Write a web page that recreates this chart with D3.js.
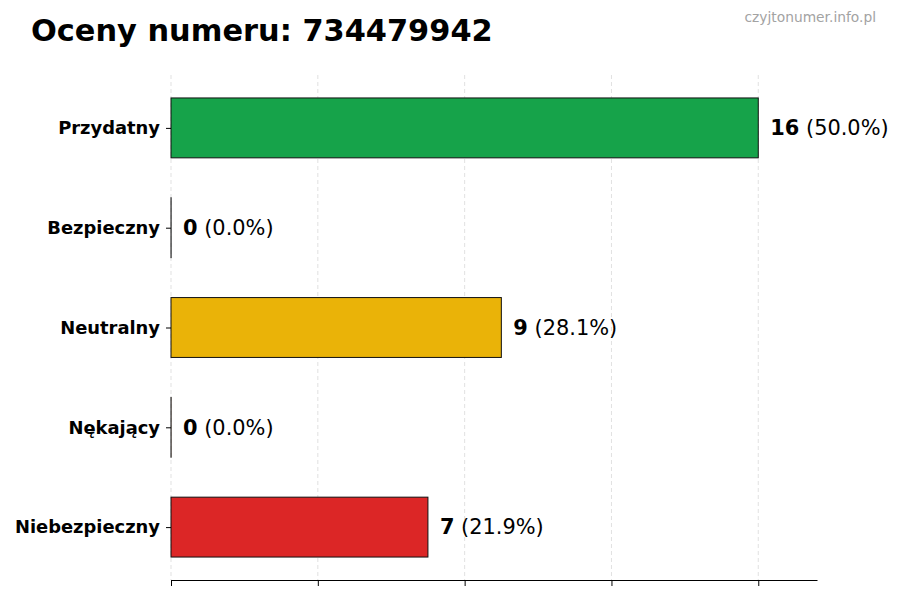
<!DOCTYPE html>
<html>
<head>
<meta charset="utf-8">
<script src="https://cdn.jsdelivr.net/npm/d3@7"></script>
<style>
  body { margin: 0; background: #fff; }
  text { font-family: "DejaVu Sans", sans-serif; }
</style>
</head>
<body>
<div id="container"></div>
<script>
/**
 * CONSTANTS AND DATA
 * */
const width = 900,
  height = 600,
  margin = { top: 75, bottom: 20, left: 171, right: 83 };

const categories = ["Przydatny", "Bezpieczny", "Neutralny", "Nękający", "Niebezpieczny"];
const counts = [16, 0, 9, 0, 7];
const percents = ["50.0%", "0.0%", "28.1%", "0.0%", "21.9%"];
const colors = ["#16a34a", "#9ca3af", "#eab308", "#f97316", "#dc2626"];
const xTicks = [0, 4, 8, 12, 16];

const svg = d3.select("#container")
  .append("svg")
  .attr("width", width)
  .attr("height", height);

const x = d3.scaleLinear()
  .domain([0, 17.6])
  .range([margin.left, width - margin.right]);

// linear y so the bands sit at integer positions like matplotlib barh
const y = d3.scaleLinear()
  .domain([-0.53, categories.length - 0.47])
  .range([margin.top, height - margin.bottom]);

const barH = y(0.6) - y(0);

// grid
svg.append("g")
  .selectAll("line")
  .data(xTicks)
  .join("line")
  .attr("x1", d => x(d))
  .attr("x2", d => x(d))
  .attr("y1", margin.top)
  .attr("y2", height - margin.bottom)
  .attr("stroke", "#d9d9d9")
  .attr("stroke-width", 0.8)
  .attr("stroke-dasharray", "4,3");

// bars (zero bars keep a hairline so the edge shows)
svg.append("g")
  .selectAll("rect")
  .data(categories)
  .join("rect")
  .attr("x", x(0))
  .attr("y", (d, i) => y(i) - barH / 2)
  .attr("width", (d, i) => Math.max(x(counts[i]) - x(0), 0.1))
  .attr("height", barH)
  .attr("fill", (d, i) => colors[i])
  .attr("stroke", "#111")
  .attr("stroke-width", 1);

// bottom axis, no labels
const xAxis = svg.append("g")
  .attr("transform", `translate(0,${height - margin.bottom})`)
  .call(d3.axisBottom(x).tickValues(xTicks).tickSize(6).tickSizeOuter(0).tickFormat(""));
xAxis.select(".domain").attr("stroke", "#000").attr("stroke-width", 1.2);

// y tick marks + labels
const yAxis = svg.append("g")
  .attr("transform", `translate(${margin.left},0)`)
  .call(d3.axisLeft(y).tickValues(d3.range(categories.length)).tickSize(5).tickPadding(6)
    .tickFormat(i => categories[i]));
yAxis.select(".domain").remove();
yAxis.selectAll("text")
  .attr("font-size", 17.9)
  .attr("font-weight", "bold")
  .attr("fill", "#000")
  .style("font-family", "'DejaVu Sans', sans-serif");

// value labels
const labels = svg.append("g")
  .selectAll("text")
  .data(categories)
  .join("text")
  .attr("x", (d, i) => x(counts[i]) + 12)
  .attr("y", (d, i) => y(i))
  .attr("dy", "0.35em")
  .attr("font-size", 20.9)
  .attr("fill", "#000");
labels.append("tspan")
  .attr("font-weight", "bold")
  .text((d, i) => counts[i]);
labels.append("tspan")
  .text((d, i) => ` (${percents[i]})`);

// title
svg.append("text")
  .attr("x", 31)
  .attr("y", 41)
  .attr("font-size", 30.4)
  .attr("font-weight", "bold")
  .text("Oceny numeru: 734479942");

// watermark
svg.append("text")
  .attr("x", 876)
  .attr("y", 22)
  .attr("text-anchor", "end")
  .attr("font-size", 13.8)
  .attr("fill", "#a3a3a3")
  .text("czyjtonumer.info.pl");
</script>
</body>
</html>
